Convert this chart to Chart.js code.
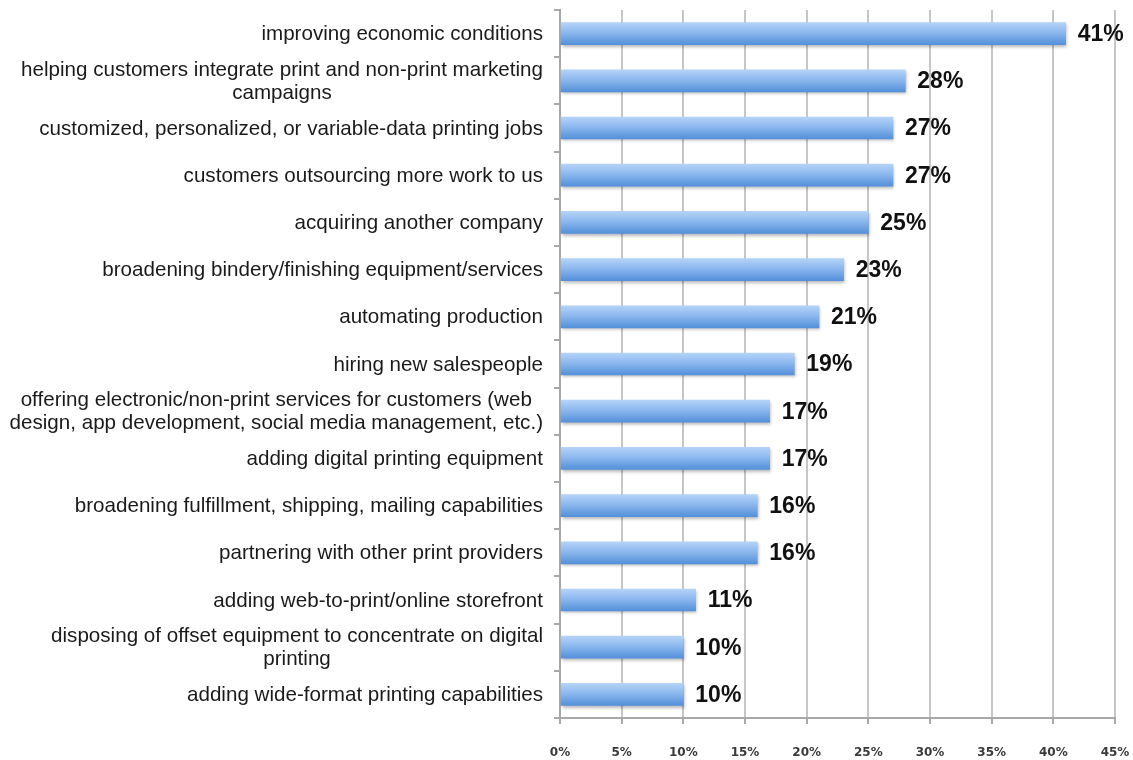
<!DOCTYPE html>
<html lang="en">
<head>
<meta charset="utf-8">
<title>Growth strategies</title>
<script src="https://cdn.jsdelivr.net/npm/chart.js@4.4.1/dist/chart.umd.min.js"></script>
<style>
  html, body { margin: 0; padding: 0; background: #fff; }
  canvas { display: block; }
</style>
</head>
<body>
<canvas id="chart-growth" width="1133" height="760"></canvas>
<script>
'use strict';

/* ── Data ── */
const categories = [
  'improving economic conditions',
  ['helping customers integrate print and non-print marketing', 'campaigns'],
  'customized, personalized, or variable-data printing jobs',
  'customers outsourcing more work to us',
  'acquiring another company',
  'broadening bindery/finishing equipment/services',
  'automating production',
  'hiring new salespeople',
  ['offering electronic/non-print services for customers (web', 'design, app development, social media management, etc.)'],
  'adding digital printing equipment',
  'broadening fulfillment, shipping, mailing capabilities',
  'partnering with other print providers',
  'adding web-to-print/online storefront',
  ['disposing of offset equipment to concentrate on digital', 'printing'],
  'adding wide-format printing capabilities',
];
const shares = [41, 28, 27, 27, 25, 23, 21, 19, 17, 17, 16, 16, 11, 10, 10];
const xMin = 0;
const xMax = 45;
const xStep = 5;

/* ── Theme ── */
const C = {
  text:   '#1a1a1a',
  tick:   '#3a3a3a',
  grid:   '#c6c6c6',
  axis:   '#a8a8a8',
  barTop: '#b4d3f7',
  barMid: '#8cb8ee',
  barBot: '#5490da',
};
const SANS = "'Liberation Sans', Arial, sans-serif";
const BAR_H = 22;

/* vertical gradient for each bar, built from its band on the y scale */
function barFill(ctx) {
  const chart = ctx.chart;
  if (!chart.chartArea || ctx.type !== 'data') return C.barMid;
  const yc = chart.scales.y.getPixelForValue(ctx.dataIndex);
  const g = chart.ctx.createLinearGradient(0, yc - BAR_H / 2, 0, yc + BAR_H / 2);
  g.addColorStop(0, C.barTop);
  g.addColorStop(0.45, C.barMid);
  g.addColorStop(1, C.barBot);
  return g;
}

/* category labels: right edge at the axis, wrapped lines centred on each other */
const categoryLabels = {
  id: 'categoryLabels',
  afterDraw(chart) {
    const { ctx, scales: { y } } = chart;
    const lineH = 23;
    ctx.save();
    ctx.font = `20.6px ${SANS}`;
    ctx.fillStyle = C.text;
    ctx.textAlign = 'center';
    ctx.textBaseline = 'middle';
    chart.data.labels.forEach((label, i) => {
      const lines = Array.isArray(label) ? label : [label];
      const widest = Math.max(...lines.map(l => ctx.measureText(l).width));
      const cx = y.right - 17 - widest / 2;
      const yc = y.getPixelForValue(i) + 1;
      lines.forEach((line, j) => {
        ctx.fillText(line, cx, yc + (j - (lines.length - 1) / 2) * lineH);
      });
    });
    ctx.restore();
  },
};

/* soft drop shadow under bars + percentage labels at bar ends */
const barDecor = {
  id: 'barDecor',
  beforeDatasetsDraw(chart) {
    const ctx = chart.ctx;
    ctx.save();
    ctx.shadowColor = 'rgba(0,0,0,0.28)';
    ctx.shadowBlur = 3;
    ctx.shadowOffsetX = 1;
    ctx.shadowOffsetY = 2;
  },
  afterDatasetsDraw(chart) {
    const ctx = chart.ctx;
    ctx.restore();
    const meta = chart.getDatasetMeta(0);
    ctx.save();
    ctx.font = `bold 23px ${SANS}`;
    ctx.fillStyle = '#111';
    ctx.textAlign = 'left';
    ctx.textBaseline = 'middle';
    meta.data.forEach((bar, i) => {
      ctx.fillText(`${chart.data.datasets[0].data[i]}%`, bar.x + 12, bar.y + 1);
    });
    ctx.restore();
  },
};

new Chart(document.getElementById('chart-growth'), {
  type: 'bar',
  data: {
    labels: categories,
    datasets: [{
      data: shares,
      backgroundColor: barFill,
      borderWidth: 0,
      barThickness: BAR_H,
    }],
  },
  options: {
    indexAxis: 'y',
    responsive: false,
    animation: false,
    devicePixelRatio: 1,
    layout: { padding: { top: 10, right: 0, left: 0, bottom: 0 } },
    plugins: {
      legend: { display: false },
      tooltip: { enabled: false },
    },
    scales: {
      x: {
        min: xMin,
        max: xMax,
        afterFit: (s) => { s.height = 42; s.paddingRight = 18; },
        ticks: {
          stepSize: xStep,
          callback: (v) => `${v}%`,
          color: C.tick,
          padding: 22,
          font: { family: "'DejaVu Sans', Verdana, sans-serif", size: 12, weight: 'bold' },
        },
        grid: { color: C.grid, lineWidth: 2, tickLength: 6, tickColor: C.axis, tickWidth: 2 },
        border: { color: C.axis, width: 2 },
      },
      y: {
        afterFit: (s) => { s.width = 560; },
        ticks: { color: 'transparent', font: { size: 10 } },
        grid: {
          offset: true,
          drawOnChartArea: false,
          drawTicks: true,
          tickLength: 6,
          color: C.axis,
          lineWidth: 2,
        },
        border: { color: C.axis, width: 2 },
      },
    },
  },
  plugins: [categoryLabels, barDecor],
});
</script>
</body>
</html>
